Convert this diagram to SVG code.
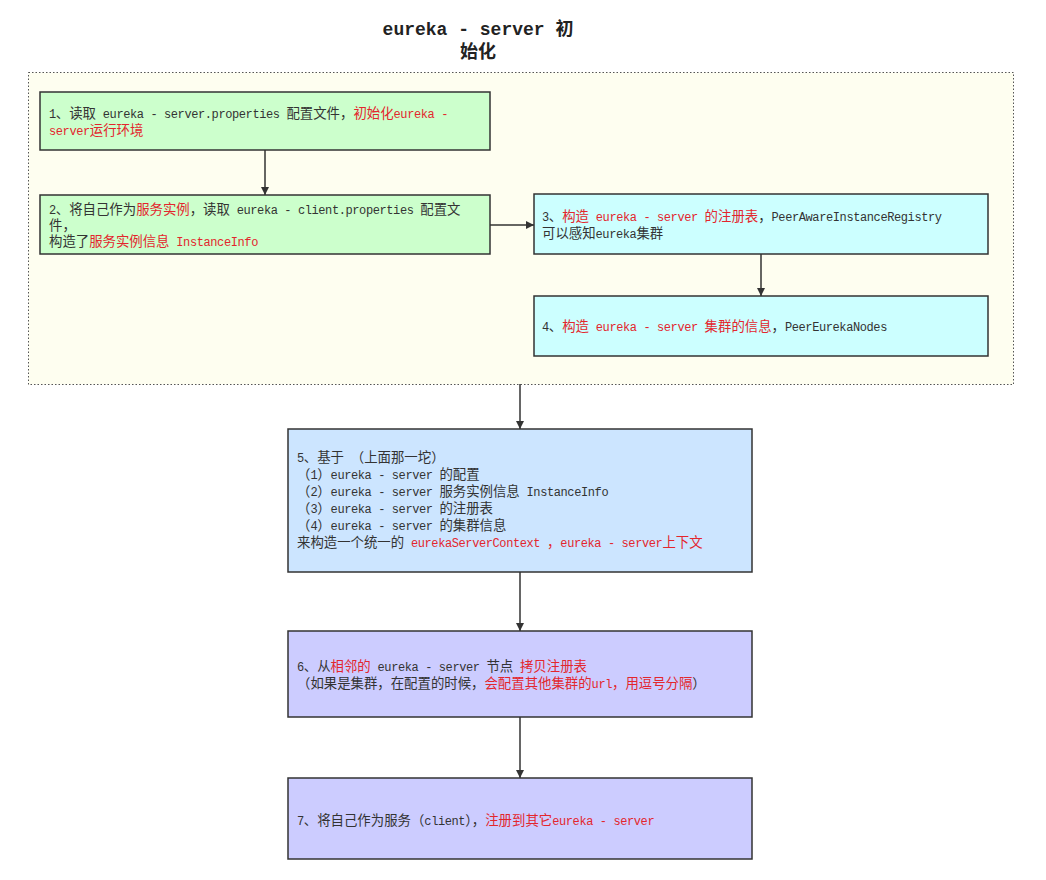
<svg xmlns="http://www.w3.org/2000/svg" width="1046" height="880" viewBox="0 0 1046 880">
<defs>
<style>
.t{font-family:"Liberation Mono","Noto Sans CJK SC",monospace;font-size:12px;letter-spacing:-0.4px;fill:#333}
.k{font-size:13.4px;letter-spacing:0}
.r{fill:#e3262d}
.title{font-family:"Liberation Mono","Noto Sans CJK SC",monospace;font-size:18px;font-weight:bold;fill:#222;text-anchor:middle}
.box{stroke:#333;stroke-width:1.5}
.g{fill:#ccffcc}.c{fill:#ccffff}.b{fill:#cce5ff}.p{fill:#ccccff}
.edge{stroke:#333;stroke-width:1.5;fill:none;marker-end:url(#ah)}
</style>
<marker id="ah" viewBox="0 0 10 10" refX="10" refY="5" markerWidth="8" markerHeight="8" markerUnits="userSpaceOnUse" orient="auto">
<path d="M0,0 L10,5 L0,10 z" fill="#333"/>
</marker>
</defs>
<rect width="1046" height="880" fill="#ffffff"/>
<g id="title">
<text class="title" x="478" y="35">eureka - server 初</text>
<text class="title" x="478" y="58">始化</text>
</g>
<g id="container">
<rect x="28.5" y="72.5" width="985" height="312" fill="#fefef0" stroke="#555" stroke-width="1" stroke-dasharray="1.5,2"/>
</g>
<g id="connectors">
<line class="edge" x1="265" y1="150" x2="265" y2="195"/>
<line class="edge" x1="490" y1="225" x2="534" y2="225"/>
<line class="edge" x1="761" y1="254" x2="761" y2="296"/>
<line class="edge" x1="520" y1="384" x2="520" y2="429"/>
<line class="edge" x1="520" y1="572" x2="520" y2="631"/>
<line class="edge" x1="520" y1="717" x2="520" y2="778"/>
</g>
<g id="n1">
<rect class="box g" x="40" y="92" width="450" height="58"/>
<text class="t" x="49" y="118">1<tspan class="k">、读取</tspan> eureka - server.properties <tspan class="k">配置文件，</tspan><tspan class="r k">初始化</tspan><tspan class="r">eureka -</tspan></text>
<text class="t r" x="49" y="135">server<tspan class="k">运行环境</tspan></text>
</g>
<g id="n2">
<rect class="box g" x="40" y="195" width="450" height="59"/>
<text class="t" x="49" y="214">2<tspan class="k">、将自己作为</tspan><tspan class="r k">服务实例</tspan><tspan class="k">，读取</tspan> eureka - client.properties <tspan class="k">配置文</tspan></text>
<text class="t" x="49" y="230"><tspan class="k">件，</tspan></text>
<text class="t" x="49" y="246"><tspan class="k">构造了</tspan><tspan class="r k">服务实例信息</tspan><tspan class="r"> InstanceInfo</tspan></text>
</g>
<g id="n3">
<rect class="box c" x="534" y="194" width="454" height="60"/>
<text class="t" x="542" y="221">3<tspan class="k">、</tspan><tspan class="r k">构造</tspan><tspan class="r"> eureka - server </tspan><tspan class="r k">的注册表</tspan><tspan class="k">，</tspan>PeerAwareInstanceRegistry</text>
<text class="t" x="542" y="238"><tspan class="k">可以感知</tspan>eureka<tspan class="k">集群</tspan></text>
</g>
<g id="n4">
<rect class="box c" x="534" y="296" width="454" height="60"/>
<text class="t" x="542" y="331">4<tspan class="k">、</tspan><tspan class="r k">构造</tspan><tspan class="r"> eureka - server </tspan><tspan class="r k">集群的信息</tspan><tspan class="k">，</tspan>PeerEurekaNodes</text>
</g>
<g id="n5">
<rect class="box b" x="288" y="429" width="464" height="143"/>
<text class="t" x="297" y="462">5<tspan class="k">、基于</tspan> <tspan class="k">（上面那一坨）</tspan></text>
<text class="t" x="297" y="479"><tspan class="k">（</tspan>1<tspan class="k">）</tspan>eureka - server <tspan class="k">的配置</tspan></text>
<text class="t" x="297" y="496"><tspan class="k">（</tspan>2<tspan class="k">）</tspan>eureka - server <tspan class="k">服务实例信息</tspan> InstanceInfo</text>
<text class="t" x="297" y="513"><tspan class="k">（</tspan>3<tspan class="k">）</tspan>eureka - server <tspan class="k">的注册表</tspan></text>
<text class="t" x="297" y="530"><tspan class="k">（</tspan>4<tspan class="k">）</tspan>eureka - server <tspan class="k">的集群信息</tspan></text>
<text class="t" x="297" y="547"><tspan class="k">来构造一个统一的</tspan> <tspan class="r">eurekaServerContext </tspan><tspan class="r k">，</tspan><tspan class="r">eureka - server</tspan><tspan class="r k">上下文</tspan></text>
</g>
<g id="n6">
<rect class="box p" x="288" y="631" width="464" height="86"/>
<text class="t" x="297" y="671">6<tspan class="k">、从</tspan><tspan class="r k">相邻的</tspan> eureka - server <tspan class="k">节点</tspan> <tspan class="r k">拷贝注册表</tspan></text>
<text class="t" x="297" y="688"><tspan class="k">（如果是集群，在配置的时候，</tspan><tspan class="r k">会配置其他集群的</tspan><tspan class="r">url</tspan><tspan class="r k">，用逗号分隔</tspan><tspan class="k">）</tspan></text>
</g>
<g id="n7">
<rect class="box p" x="288" y="778" width="464" height="81"/>
<text class="t" x="297" y="825">7<tspan class="k">、将自己作为服务（</tspan>client<tspan class="k">），</tspan><tspan class="r k">注册到其它</tspan><tspan class="r">eureka - server</tspan></text>
</g>
</svg>
